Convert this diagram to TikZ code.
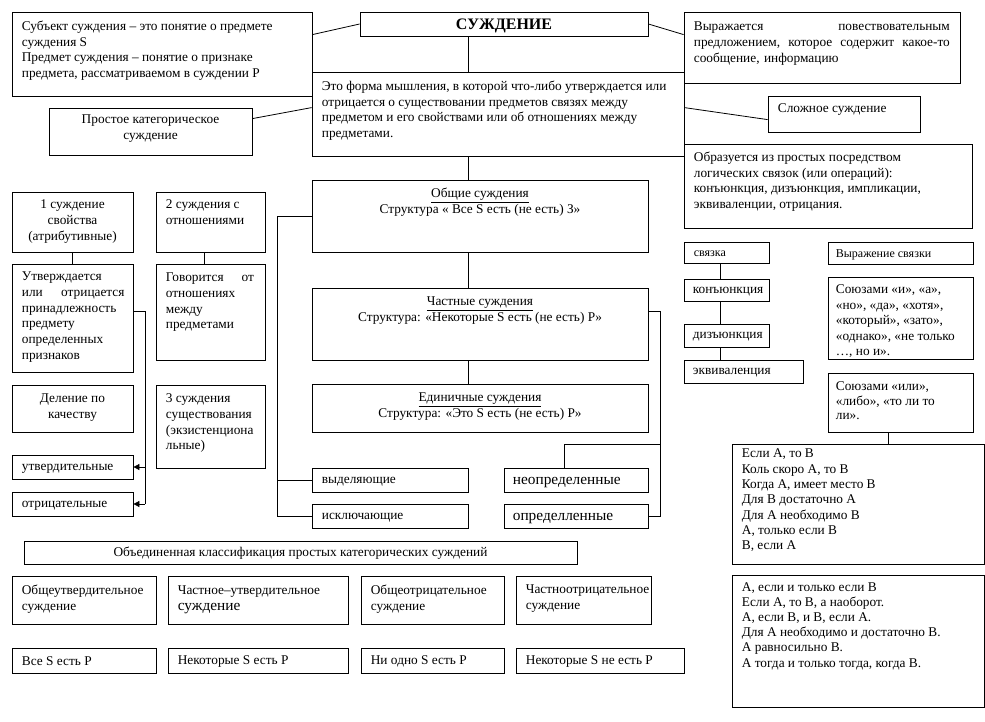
\documentclass[tikz,border=0pt]{standalone}
\usepackage{fontspec}
\setmainfont{Liberation Serif}
\usetikzlibrary{fit,arrows.meta,calc}
\newcommand\fs{\fontsize{10}{11.8}\selectfont}
\newcommand\fss{\fontsize{9}{11.7}\selectfont}
\newcommand\fsl{\fontsize{11.5}{13}\selectfont}
\begin{document}
\begin{tikzpicture}[x=0.75pt,y=-0.75pt,
 box/.style={draw,line width=0.6pt,inner sep=0pt},
 txt/.style={anchor=north west,inner sep=0pt,align=left,font=\fs},
 txc/.style={anchor=north,inner sep=0pt,align=center,font=\fs},
 txw/.style={anchor=west,inner sep=0pt,font=\fs},
 ln/.style={line width=0.6pt},
 arr/.style={line width=0.6pt,-{Triangle[length=4.5pt,width=4.5pt]}}]
\useasboundingbox (0,0) rectangle (985,721);
% top row
\node[box,fit={(12,12)(312,96)}] (subj) {};
\node[txt] (subjT) at ([shift={(10,9)}]subj.north west) {Субъект суждения – это понятие о предмете\\суждения S\\Предмет суждения – понятие о признаке\\предмета, рассматриваемом в суждении P};
\node[box,fit={(360,12)(648,36)}] (title) {};
\node[inner sep=0pt,font=\bfseries\fontsize{12}{14}\selectfont] (titleT) at ([shift={(0,2)}]title.center) {СУЖДЕНИЕ};
\node[box,fit={(684,12)(960,83)}] (vyr) {};
\node[txt,text width=192pt] (vyrT) at ([shift={(10,10)}]vyr.north west) {Выражается\hfill повествовательным\\предложением,\hfill которое\hfill содержит\hfill какое-то\\сообщение, информацию};
\node[box,fit={(49,108)(252,155)}] (prost) {};
\node[txc] (prostT) at ([shift={(0,7)}]prost.north) {Простое категорическое\\суждение};
\node[box,fit={(312,72)(684,156)}] (def) {};
\node[txt] (defT) at ([shift={(10,9)}]def.north west) {Это форма мышления, в которой что-либо утверждается или\\отрицается о существовании предметов связях между\\предметом и его свойствами или об отношениях между\\предметами.};
\node[box,fit={(768,96)(920,132)}] (slozh) {};
\node[txt] (slozhT) at ([shift={(10,8)}]slozh.north west) {Сложное суждение};
\node[box,fit={(684,144)(972,228)}] (obraz) {};
\node[txt] (obrazT) at ([shift={(10,8)}]obraz.north west) {Образуется из простых посредством\\логических связок (или операций):\\конъюнкция, дизъюнкция, импликации,\\эквиваленции, отрицания.};
% central column
\node[box,fit={(312,180)(648,252)}] (obsh) {};
\node[txc] (obshT) at ([shift={(0,8)}]obsh.north) {\underline{Общие суждения}\\Структура « Все S есть (не есть) З»};
\node[box,fit={(312,288)(648,360)}] (chast) {};
\node[txc] (chastT) at ([shift={(0,9)}]chast.north) {\underline{Частные суждения}\\Структура: «Некоторые S есть (не есть) P»};
\node[box,fit={(312,384)(648,432)}] (edin) {};
\node[txc] (edinT) at ([shift={(0,9)}]edin.north) {\underline{Единичные суждения}\\Структура: «Это S есть (не есть) P»};
\node[box,fit={(312,468)(468,492)}] (vyd) {};
\node[txw] (vydT) at ([shift={(10,1.5)}]vyd.west) {выделяющие};
\node[box,fit={(312,504)(468,528)}] (iskl) {};
\node[txw] (isklT) at ([shift={(10,1.5)}]iskl.west) {исключающие};
\node[box,fit={(504,468)(648,492)}] (neopr) {};
\node[txw,font=\fsl] (neoprT) at ([shift={(9,3)}]neopr.west) {неопределенные};
\node[box,fit={(504,504)(648,528)}] (opr) {};
\node[txw,font=\fsl] (oprT) at ([shift={(9,3)}]opr.west) {определленные};
% left columns
\node[box,fit={(12,192)(133,252)}] (b1) {};
\node[txc] (b1T) at ([shift={(0,8)}]b1.north) {1 суждение\\свойства\\(атрибутивные)};
\node[box,fit={(12,264)(133,372)}] (ut) {};
\node[txt,text width=77pt] (utT) at ([shift={(10,8)}]ut.north west) {Утверждается\\или\hfill отрицается\\принадлежность\\предмету\\определенных\\признаков};
\node[box,fit={(156,192)(265,252)}] (b2) {};
\node[txt] (b2T) at ([shift={(10,8)}]b2.north west) {2 суждения с\\отношениями};
\node[box,fit={(156,264)(265,360)}] (gov) {};
\node[txt,text width=66pt] (govT) at ([shift={(10,9)}]gov.north west) {Говорится\hfill от\\отношениях\\между\\предметами};
\node[box,fit={(12,385)(133,432)}] (del) {};
\node[txc] (delT) at ([shift={(0,9)}]del.north) {Деление по\\качеству};
\node[box,fit={(156,385)(265,468)}] (b3) {};
\node[txt] (b3T) at ([shift={(10,9)}]b3.north west) {3 суждения\\существования\\(экзистенциона\\льные)};
\node[box,fit={(12,455)(133,479)}] (utd) {};
\node[txw] (utdT) at ([shift={(10,1.5)}]utd.west) {утвердительные};
\node[box,fit={(12,492)(133,516)}] (otr) {};
\node[txw] (otrT) at ([shift={(10,1.5)}]otr.west) {отрицательные};
% right columns
\node[box,fit={(684,242)(769,263)}] (sv) {};
\node[txw,font=\fss] (svT) at ([shift={(10,1.5)}]sv.west) {связка};
\node[box,fit={(684,279)(769,301)}] (kon) {};
\node[txw] (konT) at ([shift={(9,1.5)}]kon.west) {конъюнкция};
\node[box,fit={(684,324)(769,347)}] (diz) {};
\node[txw] (dizT) at ([shift={(9,1.5)}]diz.west) {дизъюнкция};
\node[box,fit={(684,360)(803,383)}] (ekv) {};
\node[txw] (ekvT) at ([shift={(9,1.5)}]ekv.west) {эквиваленция};
\node[box,fit={(828,242)(973,264)}] (vyrsv) {};
\node[txw,font=\fss] (vyrsvT) at ([shift={(8,1.5)}]vyrsv.west) {Выражение связки};
\node[box,fit={(828,277)(973,359)}] (soi) {};
\node[txt,font=\fontsize{10}{11.6}\selectfont] (soiT) at ([shift={(8,8)}]soi.north west) {Союзами «и», «а»,\\«но», «да», «хотя»,\\«который», «зато»,\\«однако», «не только\\…, но и».};
\node[box,fit={(828,373)(973,432)}] (soili) {};
\node[txt,font=\fontsize{10}{10.8}\selectfont] (soiliT) at ([shift={(8,9)}]soili.north west) {Союзами «или»,\\«либо», «то ли то\\ли».};
\node[box,fit={(732,444)(984,564)}] (esli) {};
\node[txt,font=\fontsize{10}{11.5}\selectfont] (esliT) at ([shift={(10,5)}]esli.north west) {Если A, то B\\Коль скоро A, то B\\Когда A, имеет место B\\Для B достаточно A\\Для A необходимо B\\A, только если B\\B, если A};
\node[box,fit={(732,575)(984,707)}] (ekvl) {};
\node[txt,font=\fontsize{10}{11.3}\selectfont] (ekvlT) at ([shift={(10,8)}]ekvl.north west) {A, если и только если B\\Если A, то B, а наоборот.\\A, если B, и B, если A.\\Для A необходимо и достаточно B.\\A равносильно B.\\A тогда и только тогда, когда B.};
% bottom
\node[box,fit={(24,541)(577,564)}] (ob) {};
\node[inner sep=0pt,font=\fs] (obT) at ([shift={(0,1)}]ob.center) {Объединенная классификация простых категорических суждений};
\node[box,fit={(12,576)(156,624)}] (ra) {};
\node[txt] (raT) at ([shift={(10,9)}]ra.north west) {Общеутвердительное\\суждение};
\node[box,fit={(168,576)(348,624)}] (rb) {};
\node[txt] (rbT) at ([shift={(10,10)}]rb.north west) {Частное–утвердительное\\{\fsl суждение}};
\node[box,fit={(361,576)(504,624)}] (rc) {};
\node[txt] (rcT) at ([shift={(10,9)}]rc.north west) {Общеотрицательное\\суждение};
\node[box,fit={(516,576)(651,624)}] (rd) {};
\node[txt] (rdT) at ([shift={(10,9)}]rd.north west) {Частноотрицательное\\суждение};
\node[box,fit={(12,648)(156,673)}] (sa) {};
\node[txw] (saT) at ([shift={(10,1)}]sa.west) {Все S есть P};
\node[box,fit={(168,648)(348,673)}] (sb) {};
\node[txw] (sbT) at ([shift={(10,1)}]sb.west) {Некоторые S есть P};
\node[box,fit={(361,648)(504,673)}] (sc) {};
\node[txw] (scT) at ([shift={(10,1)}]sc.west) {Ни одно S есть P};
\node[box,fit={(516,648)(684,673)}] (sd) {};
\node[txw] (sdT) at ([shift={(10,1)}]sd.west) {Некоторые S не есть P};
% connectors
\coordinate (sp) at (468,0);
\coordinate (lbx) at (277,0);
\coordinate (rbx) at (660,0);
\coordinate (nb) at (564,444);
\coordinate (bx) at (145,0);
\coordinate (b2x) at (204,0);
\coordinate (vx) at (720,0);
\coordinate (ex) at (888,0);
\draw[ln] ([shift={(0,23)}]subj.north east) -- (title.west);
\draw[ln] (title.east) -- ([shift={(0,23)}]vyr.north west);
\draw[ln] ([shift={(0,11)}]prost.north east) -- ([shift={(0,36)}]def.north west);
\draw[ln] ([shift={(0,36)}]def.north east) -- ([shift={(0,24)}]slozh.north west);
\draw[ln] (title.south -| sp) -- (def.north -| sp);
\draw[ln] (def.south -| sp) -- (obsh.north -| sp);
\draw[ln] (obsh.south -| sp) -- (chast.north -| sp);
\draw[ln] (chast.south -| sp) -- (edin.north -| sp);
\draw[ln] (obsh.west) -- (obsh.west -| lbx) -- (iskl.west -| lbx) -- (iskl.west);
\draw[ln] (vyd.west -| lbx) -- (vyd.west);
\draw[ln] ([shift={(0,24)}]chast.north east) -- ([shift={(0,24)}]chast.north east -| rbx) -- (opr.east -| rbx) -- (opr.east);
\draw[ln] (nb -| rbx) -- (nb) -- (nb |- neopr.north);
\draw[ln] (b1.south) -- (ut.north);
\draw[ln] (b2.south -| b2x) -- (gov.north -| b2x);
\draw[ln] ([shift={(0,48)}]ut.north east) -- ([shift={(0,48)}]ut.north east -| bx) -- (otr.east -| bx);
\draw[arr] (utd.east -| bx) -- (utd.east);
\draw[arr] (otr.east -| bx) -- (otr.east);
\draw[ln] (sv.south -| vx) -- (kon.north -| vx);
\draw[ln] (kon.south -| vx) -- (diz.north -| vx);
\draw[ln] (diz.south -| vx) -- (ekv.north -| vx);
\draw[ln] (soili.south -| ex) -- (esli.north -| ex);
\end{tikzpicture}
\end{document}
